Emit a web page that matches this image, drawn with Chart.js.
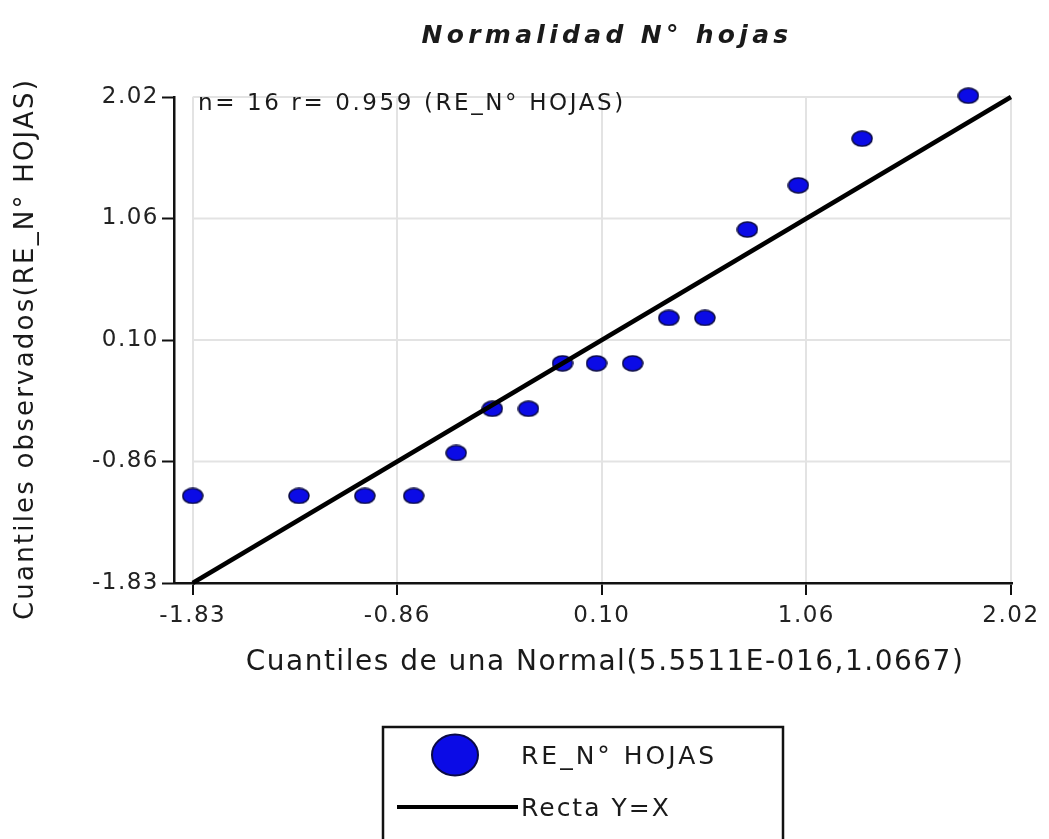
<!DOCTYPE html>
<html>
<head>
<meta charset="utf-8">
<script src="https://cdn.jsdelivr.net/npm/chart.js@4.4.1/dist/chart.umd.min.js"></script>
<style>
  html, body { margin: 0; padding: 0; background: #fff; }
  canvas { display: block; }
</style>
</head>
<body>
<canvas id="myChart" width="1049" height="839"></canvas>
<script>
   // texts
   const chartTitle = 'Normalidad N° hojas';
   const statsText = 'n= 16 r= 0.959 (RE_N° HOJAS)';
   const xTitle = 'Cuantiles de una Normal(5.5511E-016,1.0667)';
   const yTitle = 'Cuantiles observados(RE_N° HOJAS)';
   const seriesName = 'RE_N° HOJAS';
   const lineName = 'Recta Y=X';

   // theoretical normal quantiles (x) and observed quantiles (y)
   const normalQuantiles = [-1.83, -1.33, -1.02, -0.79, -0.59, -0.42, -0.25, -0.09, 0.07, 0.24, 0.41, 0.58, 0.78, 1.02, 1.32, 1.82];
   const observedQuantiles = [-1.14, -1.14, -1.14, -1.14, -0.80, -0.45, -0.45, -0.09, -0.09, -0.09, 0.27, 0.27, 0.97, 1.32, 1.69, 2.03];

   // ticks used on both axes
   const tickValues = [-1.83, -0.8675, 0.095, 1.0575, 2.02];
   const tickLabels = ['-1.83', '-0.86', '0.10', '1.06', '2.02'];

   // ends of the line y = x
   const lineEnds = [-1.83, 2.02];

   const fontFamily = 'DejaVu Sans';
   const textColor = '#1a1a1a';
   const pointFill = '#0b0be6';
   const pointEdge = '#0a0a45';

   //    blue ellipse used as point marker
   function ellipseImage(w, h) {
       const c = document.createElement('canvas');
       c.width = w;
       c.height = h;
       const g = c.getContext('2d');
       g.beginPath();
       g.ellipse(w / 2, h / 2, w / 2 - 1, h / 2 - 1, 0, 0, Math.PI * 2);
       g.fillStyle = pointFill;
       g.fill();
       g.lineWidth = 1.5;
       g.strokeStyle = pointEdge;
       g.stroke();
       return c;
   }

   function drawText(ctx, text, x, y, font, spacing, align, rotation) {
       ctx.save();
       ctx.translate(x, y);
       if (rotation) ctx.rotate(rotation);
       ctx.font = font;
       ctx.letterSpacing = spacing + 'px';
       ctx.fillStyle = textColor;
       ctx.textAlign = align;
       ctx.textBaseline = 'alphabetic';
       ctx.fillText(text, 0, 0);
       ctx.restore();
   }

   //    a little letter spacing like the original software
   const spacingPlugin = {
       id: 'spacing',
       beforeUpdate(chart) { chart.ctx.letterSpacing = '1.5px'; },
       beforeDraw(chart) { chart.ctx.letterSpacing = '1.5px'; }
   };

   //    horizontal grid only across the data range (not over the x axis)
   const hGridPlugin = {
       id: 'hGrid',
       beforeDatasetsDraw(chart) {
           const { ctx, scales: { x, y } } = chart;
           ctx.save();
           ctx.strokeStyle = '#e3e3e3';
           ctx.lineWidth = 2;
           tickValues.slice(1).forEach(v => {
               const py = y.getPixelForValue(v);
               ctx.beginPath();
               ctx.moveTo(x.getPixelForValue(tickValues[0]), py);
               ctx.lineTo(x.getPixelForValue(tickValues[tickValues.length - 1]), py);
               ctx.stroke();
           });
           ctx.restore();
       }
   };

   //    titles, stats text and boxed legend
   const extrasPlugin = {
       id: 'extras',
       afterDraw(chart) {
           const ctx = chart.ctx;
           drawText(ctx, chartTitle, 607, 43, 'oblique bold 25px "' + fontFamily + '"', 4.3, 'center');
           drawText(ctx, statsText, 198, 110, '23px "' + fontFamily + '"', 2.6, 'left');
           drawText(ctx, xTitle, 605, 670, '28px "' + fontFamily + '"', 1.5, 'center');
           drawText(ctx, yTitle, 33, 349, '26px "' + fontFamily + '"', 2.2, 'center', -Math.PI / 2);

           const ds = chart.data.datasets;
           ctx.save();
           ctx.lineWidth = 2.5;
           ctx.strokeStyle = '#111';
           ctx.strokeRect(383, 727, 400, 160);

           ctx.beginPath();
           ctx.ellipse(455, 755, 23, 20.5, 0, 0, Math.PI * 2);
           ctx.fillStyle = pointFill;
           ctx.fill();
           ctx.lineWidth = 2;
           ctx.strokeStyle = pointEdge;
           ctx.stroke();

           ctx.beginPath();
           ctx.moveTo(397, 807);
           ctx.lineTo(518, 807);
           ctx.lineWidth = 4;
           ctx.strokeStyle = '#000';
           ctx.stroke();
           ctx.restore();

           drawText(ctx, ds[0].label, 521, 764, '25px "' + fontFamily + '"', 3, 'left');
           drawText(ctx, ds[1].label, 521, 816, '25px "' + fontFamily + '"', 2, 'left');
       }
   };

   const chartData = {
       datasets: [{
           type: 'scatter',
           label: seriesName,
           data: normalQuantiles.map((q, i) => ({ x: q, y: observedQuantiles[i] })),
           pointStyle: ellipseImage(22, 17),
           pointRadius: 9,
           clip: false,
           order: 2
       }, {
           type: 'line',
           label: lineName,
           data: lineEnds.map(v => ({ x: v, y: v })),
           borderColor: '#000',
           borderWidth: 4.5,
           pointRadius: 0,
           fill: false,
           clip: false,
           order: 1
       }]
   };

   const tickFont = { family: fontFamily, size: 23 };

   const config = {
       type: 'scatter',
       data: chartData,
       options: {
           responsive: false,
           animation: false,
           events: [],
           layout: {
               padding: { top: 97, right: 37, bottom: 156, left: 0 }
           },
           plugins: {
               legend: { display: false },
               tooltip: { enabled: false },
               title: { display: false }
           },
           scales: {
               x: {
                   type: 'linear',
                   min: -1.918,
                   max: 2.025,
                   afterBuildTicks: s => { s.ticks = tickValues.map(v => ({ value: v })); },
                   afterFit: s => { s.height = 100; },
                   ticks: {
                       autoSkip: false,
                       maxRotation: 0,
                       padding: 7,
                       color: '#222',
                       font: tickFont,
                       callback: (v, i) => tickLabels[i]
                   },
                   grid: {
                       color: '#e3e3e3',
                       lineWidth: 2,
                       tickColor: '#111',
                       tickWidth: 2,
                       tickLength: 12
                   },
                   border: { color: '#111', width: 2.5 },
                   title: { display: false }
               },
               y: {
                   type: 'linear',
                   min: -1.83,
                   max: 2.02,
                   afterBuildTicks: s => { s.ticks = tickValues.map(v => ({ value: v })); },
                   afterFit: s => { s.width = 174; },
                   ticks: {
                       padding: 3,
                       color: '#222',
                       font: tickFont,
                       callback: (v, i) => tickLabels[i]
                   },
                   grid: {
                       drawOnChartArea: false,
                       tickColor: '#111',
                       tickWidth: 2,
                       tickLength: 12
                   },
                   border: { color: '#111', width: 2.5 },
                   title: { display: false }
               }
           }
       },
       plugins: [spacingPlugin, hGridPlugin, extrasPlugin]
   };

   new Chart(
       document.getElementById('myChart'),
       config
   );
</script>
</body>
</html>
